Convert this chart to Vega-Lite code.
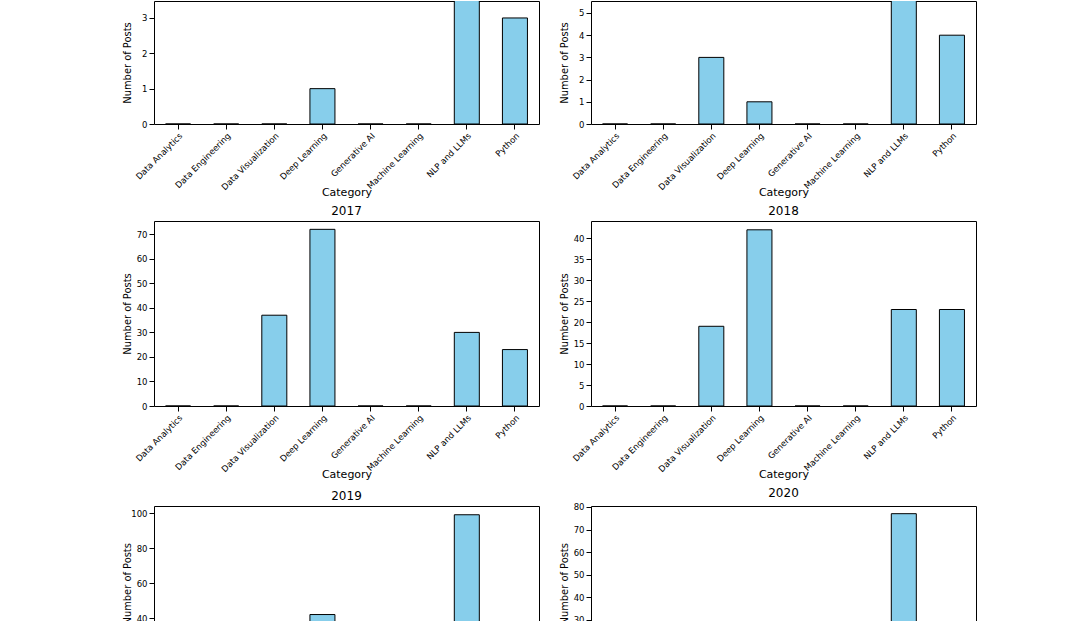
{
  "$schema": "https://vega.github.io/schema/vega-lite/v6.json",
  "padding": {"left": 120, "top": 0, "right": 0, "bottom": 0},
  "background": "white",
  "datasets": {
    "posts": [
      {"Year": 2015, "Category": "Data Analytics", "Posts": 0},
      {"Year": 2015, "Category": "Data Engineering", "Posts": 0},
      {"Year": 2015, "Category": "Data Visualization", "Posts": 0},
      {"Year": 2015, "Category": "Deep Learning", "Posts": 1},
      {"Year": 2015, "Category": "Generative AI", "Posts": 0},
      {"Year": 2015, "Category": "Machine Learning", "Posts": 0},
      {"Year": 2015, "Category": "NLP and LLMs", "Posts": 4},
      {"Year": 2015, "Category": "Python", "Posts": 3},
      {"Year": 2016, "Category": "Data Analytics", "Posts": 0},
      {"Year": 2016, "Category": "Data Engineering", "Posts": 0},
      {"Year": 2016, "Category": "Data Visualization", "Posts": 3},
      {"Year": 2016, "Category": "Deep Learning", "Posts": 1},
      {"Year": 2016, "Category": "Generative AI", "Posts": 0},
      {"Year": 2016, "Category": "Machine Learning", "Posts": 0},
      {"Year": 2016, "Category": "NLP and LLMs", "Posts": 6},
      {"Year": 2016, "Category": "Python", "Posts": 4},
      {"Year": 2017, "Category": "Data Analytics", "Posts": 0},
      {"Year": 2017, "Category": "Data Engineering", "Posts": 0},
      {"Year": 2017, "Category": "Data Visualization", "Posts": 37},
      {"Year": 2017, "Category": "Deep Learning", "Posts": 72},
      {"Year": 2017, "Category": "Generative AI", "Posts": 0},
      {"Year": 2017, "Category": "Machine Learning", "Posts": 0},
      {"Year": 2017, "Category": "NLP and LLMs", "Posts": 30},
      {"Year": 2017, "Category": "Python", "Posts": 23},
      {"Year": 2018, "Category": "Data Analytics", "Posts": 0},
      {"Year": 2018, "Category": "Data Engineering", "Posts": 0},
      {"Year": 2018, "Category": "Data Visualization", "Posts": 19},
      {"Year": 2018, "Category": "Deep Learning", "Posts": 42},
      {"Year": 2018, "Category": "Generative AI", "Posts": 0},
      {"Year": 2018, "Category": "Machine Learning", "Posts": 0},
      {"Year": 2018, "Category": "NLP and LLMs", "Posts": 23},
      {"Year": 2018, "Category": "Python", "Posts": 23},
      {"Year": 2019, "Category": "Data Analytics", "Posts": 0},
      {"Year": 2019, "Category": "Data Engineering", "Posts": 0},
      {"Year": 2019, "Category": "Data Visualization", "Posts": 20},
      {"Year": 2019, "Category": "Deep Learning", "Posts": 42},
      {"Year": 2019, "Category": "Generative AI", "Posts": 0},
      {"Year": 2019, "Category": "Machine Learning", "Posts": 0},
      {"Year": 2019, "Category": "NLP and LLMs", "Posts": 99},
      {"Year": 2019, "Category": "Python", "Posts": 25},
      {"Year": 2020, "Category": "Data Analytics", "Posts": 0},
      {"Year": 2020, "Category": "Data Engineering", "Posts": 0},
      {"Year": 2020, "Category": "Data Visualization", "Posts": 15},
      {"Year": 2020, "Category": "Deep Learning", "Posts": 20},
      {"Year": 2020, "Category": "Generative AI", "Posts": 0},
      {"Year": 2020, "Category": "Machine Learning", "Posts": 0},
      {"Year": 2020, "Category": "NLP and LLMs", "Posts": 77},
      {"Year": 2020, "Category": "Python", "Posts": 20}
    ]
  },
  "data": {"name": "posts"},
  "spacing": 6,
  "vconcat": [
    {
      "hconcat": [
        {
          "width": 385, "height": 123,
          "transform": [{"filter": "datum.Year == 2015"}],
          "mark": {"type": "bar", "color": "#87CEEB", "stroke": "black", "strokeWidth": 1, "clip": true},
          "encoding": {
            "x": {"field": "Category", "type": "nominal", "title": "Category", "scale": {"paddingInner": 0.48, "paddingOuter": 0.24}},
            "y": {"field": "Posts", "type": "quantitative", "title": "Number of Posts", "scale": {"domain": [0, 3.48], "nice": false}, "axis": {"values": [0, 1, 2, 3]}}
          }
        },
        {
          "width": 385, "height": 123,
          "transform": [{"filter": "datum.Year == 2016"}],
          "mark": {"type": "bar", "color": "#87CEEB", "stroke": "black", "strokeWidth": 1, "clip": true},
          "encoding": {
            "x": {"field": "Category", "type": "nominal", "title": "Category", "scale": {"paddingInner": 0.48, "paddingOuter": 0.24}},
            "y": {"field": "Posts", "type": "quantitative", "title": "Number of Posts", "scale": {"domain": [0, 5.54], "nice": false}, "axis": {"values": [0, 1, 2, 3, 4, 5]}}
          }
        }
      ]
    },
    {
      "hconcat": [
        {
          "width": 385, "height": 185,
          "title": "2017",
          "transform": [{"filter": "datum.Year == 2017"}],
          "mark": {"type": "bar", "color": "#87CEEB", "stroke": "black", "strokeWidth": 1},
          "encoding": {
            "x": {"field": "Category", "type": "nominal", "title": "Category", "scale": {"paddingInner": 0.48, "paddingOuter": 0.24}},
            "y": {"field": "Posts", "type": "quantitative", "title": "Number of Posts", "scale": {"domain": [0, 75.4], "nice": false}, "axis": {"values": [0, 10, 20, 30, 40, 50, 60, 70]}}
          }
        },
        {
          "width": 385, "height": 185,
          "title": "2018",
          "transform": [{"filter": "datum.Year == 2018"}],
          "mark": {"type": "bar", "color": "#87CEEB", "stroke": "black", "strokeWidth": 1},
          "encoding": {
            "x": {"field": "Category", "type": "nominal", "title": "Category", "scale": {"paddingInner": 0.48, "paddingOuter": 0.24}},
            "y": {"field": "Posts", "type": "quantitative", "title": "Number of Posts", "scale": {"domain": [0, 44.1], "nice": false}, "axis": {"values": [0, 5, 10, 15, 20, 25, 30, 35, 40]}}
          }
        }
      ]
    },
    {
      "hconcat": [
        {
          "width": 385, "height": 118,
          "title": "2019",
          "transform": [{"filter": "datum.Year == 2019"}],
          "mark": {"type": "bar", "color": "#87CEEB", "stroke": "black", "strokeWidth": 1, "clip": true},
          "encoding": {
            "x": {"field": "Category", "type": "nominal", "axis": null, "scale": {"paddingInner": 0.48, "paddingOuter": 0.24}},
            "y": {"field": "Posts", "type": "quantitative", "title": "Number of Posts", "scale": {"domain": [36.6, 104], "nice": false, "zero": false}, "axis": {"values": [40, 60, 80, 100], "titleAnchor": "start"}}
          }
        },
        {
          "width": 385, "height": 118,
          "title": "2020",
          "transform": [{"filter": "datum.Year == 2020"}],
          "mark": {"type": "bar", "color": "#87CEEB", "stroke": "black", "strokeWidth": 1, "clip": true},
          "encoding": {
            "x": {"field": "Category", "type": "nominal", "axis": null, "scale": {"paddingInner": 0.48, "paddingOuter": 0.24}},
            "y": {"field": "Posts", "type": "quantitative", "title": "Number of Posts", "scale": {"domain": [28.2, 80.4], "nice": false, "zero": false}, "axis": {"values": [30, 40, 50, 60, 70, 80], "titleAnchor": "start"}}
          }
        }
      ]
    }
  ],
  "resolve": {"scale": {"y": "independent", "x": "independent"}},
  "config": {
    "font": "DejaVu Sans",
    "view": {"stroke": "black", "strokeWidth": 1},
    "concat": {"spacing": 17},
    "title": {"fontSize": 12, "fontWeight": "normal", "offset": 3, "color": "black"},
    "axis": {
      "grid": false,
      "domain": false,
      "tickColor": "black",
      "labelColor": "black",
      "titleColor": "black",
      "labelFontSize": 8.5,
      "titleFontWeight": "normal"
    },
    "axisX": {"labelAngle": -45, "labelAlign": "right", "labelBaseline": "top", "titleFontSize": 11, "minExtent": 55, "maxExtent": 55, "titlePadding": 7},
    "axisY": {"titleFont": "DejaVu Sans Condensed", "titleFontSize": 11, "minExtent": 16, "maxExtent": 16, "titlePadding": 6}
  }
}
